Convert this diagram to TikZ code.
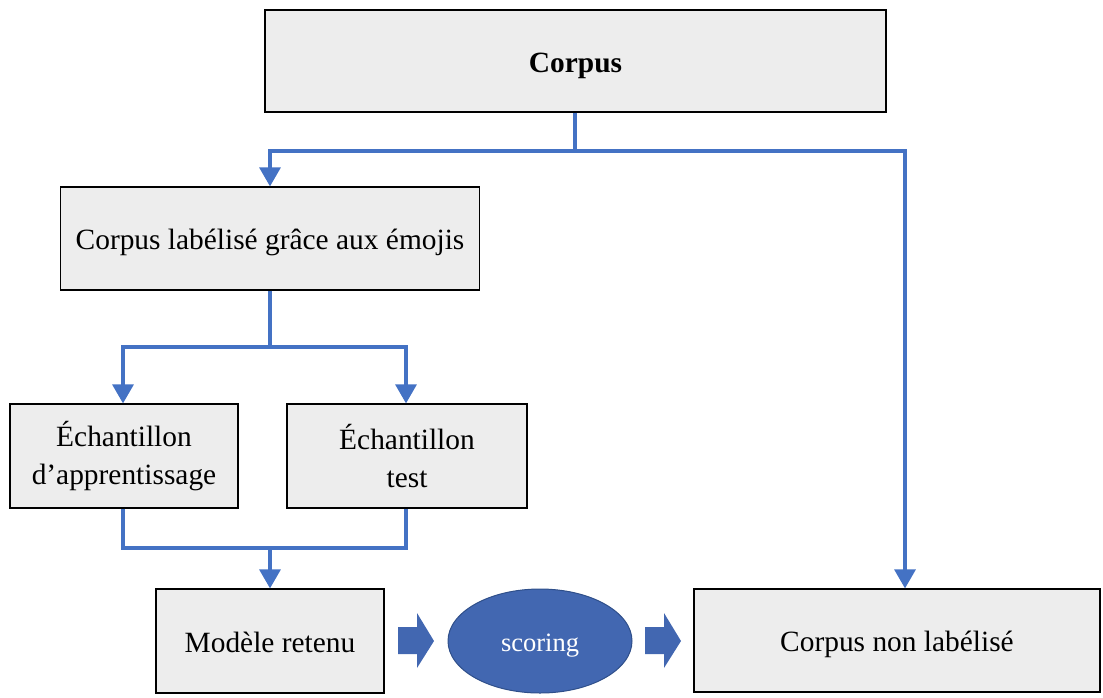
\documentclass[tikz,border=0pt]{standalone}
\usepackage{fontspec}
\setmainfont{Liberation Serif}
\usetikzlibrary{arrows.meta,shapes.geometric}
\definecolor{conn}{HTML}{4472C4}
\definecolor{boxfill}{HTML}{EDEDED}
\definecolor{ellfill}{HTML}{4267B1}
\definecolor{elldraw}{HTML}{2F4F8A}
\tikzset{
  box/.style={draw=black, line width=1.2pt, fill=boxfill, align=center, font=\fontsize{29.4}{38}\selectfont, inner sep=0pt},
  oneline/.style={text height=26pt, text depth=4pt},
  conn/.style={draw=conn, line width=3.2pt, -{Triangle[width=21pt,length=19pt]}},
  connplain/.style={draw=conn, line width=3.2pt},
  blockarrow/.style={fill=ellfill, draw=none},
}
\begin{document}
\begin{tikzpicture}[x=1pt,y=-1pt]
\useasboundingbox (0,0) rectangle (1103,697);
\node[box, oneline, minimum width=621pt, minimum height=102pt, font=\fontsize{29.4}{36}\selectfont\bfseries] (corpus) at (575.5,61) {Corpus};
\node[box, oneline, minimum width=419pt, minimum height=103pt] (lab) at (270,238.5) {Corpus labélisé grâce aux émojis};
\node[box, minimum width=228pt, minimum height=104pt] (app) at (124,456) {Échantillon\\d’apprentissage};
\node[box, minimum width=240pt, minimum height=104pt] (test) at (407,456) {Échantillon\\test};
\node[box, oneline, minimum width=228pt, minimum height=104pt] (mod) at (270,641) {Modèle retenu};
\node[draw=elldraw, line width=1pt, fill=ellfill, ellipse, minimum width=184pt, minimum height=104pt, inner sep=0pt, text=white, font=\fontsize{26.5}{30}\selectfont, text height=23pt, text depth=3pt] (scor) at (540,641) {scoring};
\node[box, oneline, minimum width=406pt, minimum height=103pt] (nonlab) at (897,640.5) {Corpus non labélisé};

% connectors
\coordinate (j1) at (575,151);
\coordinate (j2) at (270,347);
\coordinate (j3) at (270,548);
\draw[connplain] (corpus.south -| j1) -- (j1);
\draw[conn] (j1) -| (lab.north);
\draw[conn] (j1) -| (nonlab.north -| 905,0);
\draw[connplain] (lab.south) -- (j2);
\draw[conn] (j2) -| (app.north -| 123,0);
\draw[conn] (j2) -| (test.north -| 406,0);
\draw[connplain] (app.south -| 123,0) |- (j3) -| (test.south -| 406,0);
\draw[conn] (j3) -- (mod.north);

% block arrows
\fill[blockarrow] (398,627) -- (417,627) -- (417,613) -- (434,641) -- (417,668) -- (417,654) -- (398,654) -- cycle;
\fill[blockarrow] (645,627) -- (664,627) -- (664,613) -- (681,641) -- (664,668) -- (664,654) -- (645,654) -- cycle;
\end{tikzpicture}
\end{document}
